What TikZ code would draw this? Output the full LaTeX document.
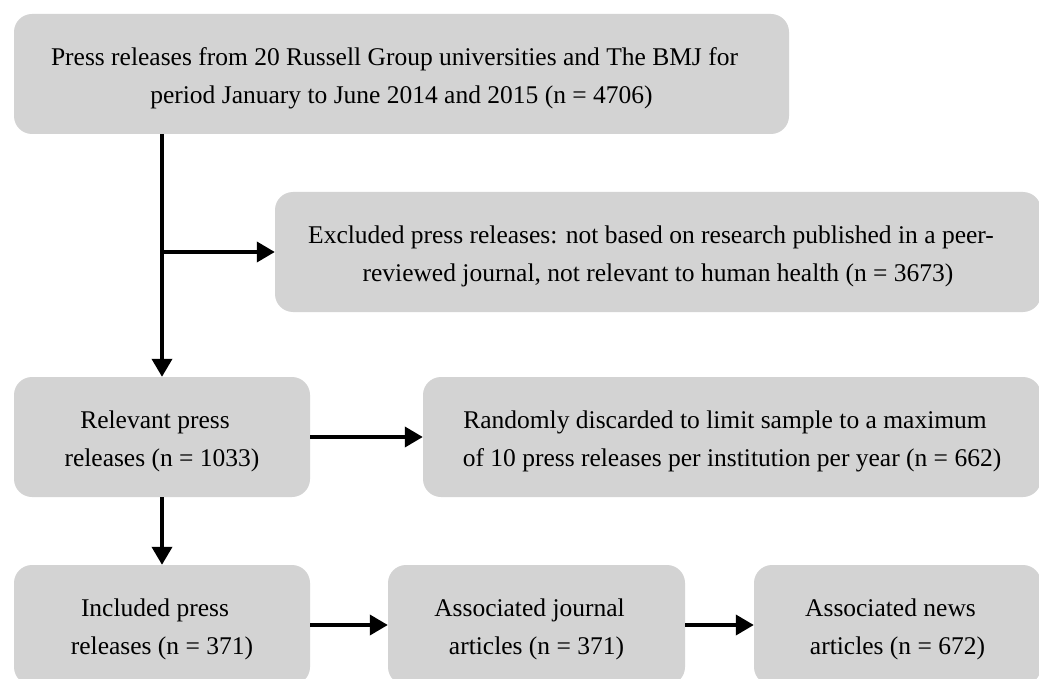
\documentclass[tikz,border=0pt]{standalone}
\usepackage{fontspec}
\setmainfont{Liberation Serif}
\usetikzlibrary{arrows.meta}
\definecolor{boxgray}{RGB}{211,211,211}
\newcommand{\tl}{\rule{0pt}{27pt}}
\newcommand{\te}{\rule{14pt}{0pt}}
\newcommand{\bl}{\rule[-6pt]{0pt}{6pt}}
\tikzset{
  flowbox/.style={fill=boxgray, draw=none, rounded corners=18pt, inner sep=0pt,
    minimum height=120pt, align=center, font=\fontsize{25.5}{38}\selectfont},
  flowarrow/.style={line width=3.8pt, -{Triangle[length=18pt,width=20pt]}},
  flowline/.style={line width=3.8pt}
}
\begin{document}
\begin{tikzpicture}[x=1pt,y=-1pt]
\useasboundingbox (0,0) rectangle (1039,679);
\clip (0,0) rectangle (1039,679);
\node[flowbox, minimum width=775pt] (b1) at (401.5,74)
  {\tl Press releases from 20 Russell Group universities and The BMJ for\te\\
   period January to June 2014 and 2015 (n = 4706)\bl};
\node[flowbox, minimum width=766pt] (b2) at (658,252)
  {\tl Excluded press releases: not based on research published in a peer-\te\\
   reviewed journal, not relevant to human health (n = 3673)\bl};
\node[flowbox, minimum width=296pt] (b3) at (162,437)
  {\tl Relevant press\te\\ releases (n = 1033)\bl};
\node[flowbox, minimum width=618pt] (b4) at (732,437)
  {\tl Randomly discarded to limit sample to a maximum\te\\
   of 10 press releases per institution per year (n = 662)\bl};
\node[flowbox, minimum width=296pt] (b5) at (162,625)
  {\tl Included press\te\\ releases (n = 371)\bl};
\node[flowbox, minimum width=297pt] (b6) at (536.5,625)
  {\tl Associated journal\te\\ articles (n = 371)\bl};
\node[flowbox, minimum width=287pt] (b7) at (897.5,625)
  {\tl Associated news\te\\ articles (n = 672)\bl};
\coordinate (j1) at (b3.north |- b2.west);
\draw[flowarrow] (b3.north |- b1.south) -- (b3.north);
\draw[flowarrow] (j1) -- (b2.west);
\draw[flowarrow] (b3.east) -- (b4.west);
\draw[flowarrow] (b3.south) -- (b5.north);
\draw[flowarrow] (b5.east) -- (b6.west);
\draw[flowarrow] (b6.east) -- (b7.west);
\end{tikzpicture}
\end{document}
